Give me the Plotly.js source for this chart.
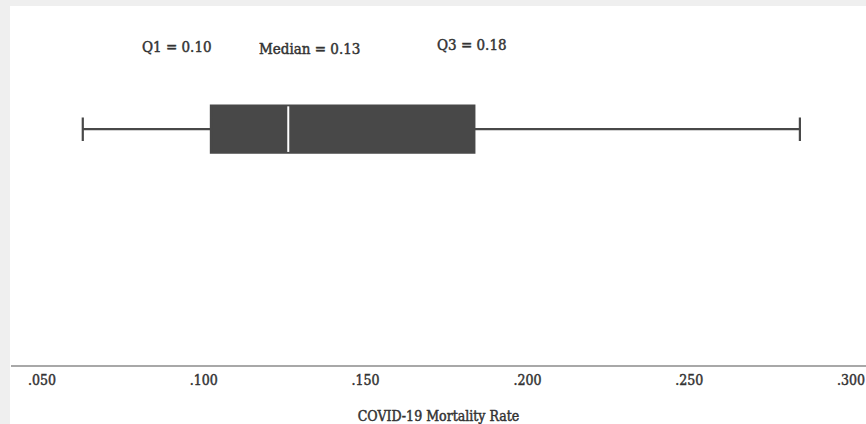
<!DOCTYPE html>
<html>
<head>
<meta charset="utf-8">
<script src="https://cdn.plot.ly/plotly-3.0.1.min.js"></script>
<style>
  html, body { margin: 0; padding: 0; width: 866px; height: 424px; overflow: hidden; background: #efefef; }
  #chart { position: absolute; left: 10px; top: 6px; width: 856px; height: 418px; background: #fff; }
  /* slightly heavier text strokes */
  #chart text { stroke: #333333; stroke-width: 0.45px; }
</style>
</head>
<body>
<div id="chart"></div>
<script>
// Summary statistics of the COVID-19 mortality rate distribution
const lowerFence = [0.0626];
const q1Values = [0.1022];
const medianValues = [0.1261];
const q3Values = [0.1836];
const upperFence = [0.2842];

// Axis ticks
const tickValues = [0.05, 0.10, 0.15, 0.20, 0.25, 0.30];
const tickLabels = ['.050', '.100', '.150', '.200', '.250', '.300'];

const axisTitle = 'COVID-19 Mortality Rate';

const FONT = '"DejaVu Serif Condensed", "DejaVu Serif", serif';
const DARK = '#484848';

const boxY = 0.657;      // vertical placement of the box
const boxWidth = 0.131;  // box thickness in y units

const boxTrace = {
  type: 'box',
  orientation: 'h',
  y: [boxY],
  lowerfence: lowerFence,
  q1: q1Values,
  median: medianValues,
  q3: q3Values,
  upperfence: upperFence,
  width: boxWidth,
  whiskerwidth: 0.5,
  fillcolor: DARK,
  line: { color: DARK, width: 2.2 },
  boxpoints: false,
  hoverinfo: 'skip',
  showlegend: false
};

// White median stroke drawn across the box
const medianTrace = {
  type: 'scatter',
  mode: 'lines',
  x: [medianValues[0], medianValues[0]],
  y: [boxY - boxWidth / 2 + 0.002, boxY + boxWidth / 2 - 0.002],
  line: { color: '#ffffff', width: 2 },
  hoverinfo: 'skip',
  showlegend: false
};

const labelFont = { family: FONT, size: 15, color: '#333333' };

function statLabel(text, x, y) {
  return { text: text, xref: 'paper', yref: 'paper', x: x, y: y,
           xanchor: 'center', yanchor: 'middle', showarrow: false, font: labelFont };
}

const layout = {
  width: 856,
  height: 418,
  margin: { l: 1, r: 0, t: 0, b: 59 },
  paper_bgcolor: '#ffffff',
  plot_bgcolor: '#ffffff',
  showlegend: false,
  xaxis: {
    range: [0.04042, 0.30463],
    tickvals: tickValues,
    ticktext: tickLabels,
    ticks: '',
    ticklabelstandoff: 2,
    showgrid: false,
    zeroline: false,
    showline: true,
    linecolor: '#a8a8a8',
    linewidth: 1.5,
    tickfont: { family: FONT, size: 14, color: '#333333' },
    title: { text: axisTitle, font: { family: FONT, size: 14, color: '#333333' }, standoff: 25 },
    automargin: false,
    fixedrange: true
  },
  yaxis: {
    range: [0, 1],
    visible: false,
    fixedrange: true
  },
  annotations: [
    statLabel('Q1 = ' + q1Values[0].toFixed(2), 0.1942, 0.885),
    statLabel('Median = ' + medianValues[0].toFixed(2), 0.3490, 0.879),
    statLabel('Q3 = ' + q3Values[0].toFixed(2), 0.5388, 0.892)
  ]
};

Plotly.newPlot('chart', [boxTrace, medianTrace], layout, { displayModeBar: false, staticPlot: true });
</script>
</body>
</html>
